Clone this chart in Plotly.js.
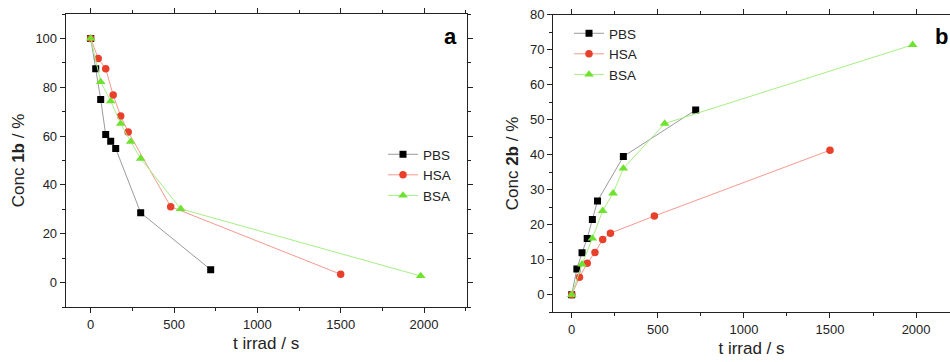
<!DOCTYPE html>
<html><head><meta charset="utf-8">
<script src="https://cdn.plot.ly/plotly-3.0.1.min.js"></script>
<style>html,body{margin:0;padding:0;background:#fff}#c{width:950px;height:362px}</style>
</head><body><div id="c"></div>
<script>
// Panel a: Conc 1b (%) vs irradiation time (s)
const tPBS_a = [0, 30, 60, 90, 120, 150, 300, 720];
const cPBS_a = [100, 87.6, 75, 60.6, 57.9, 54.9, 28.6, 5.3];
const tHSA_a = [0, 45, 90, 135, 180, 225, 480, 1500];
const cHSA_a = [100, 91.8, 87.6, 76.8, 68.2, 61.7, 31.1, 3.4];
const tBSA_a = [0, 60, 120, 180, 240, 300, 540, 1980];
const cBSA_a = [100, 82.2, 74.3, 65.1, 57.7, 50.8, 30.2, 2.7];
// Panel b: Conc 2b (%) vs irradiation time (s)
const tPBS_b = [0, 30, 60, 90, 120, 150, 300, 720];
const cPBS_b = [0, 7.4, 12.0, 16.1, 21.5, 26.8, 39.5, 52.8];
const tHSA_b = [0, 45, 90, 135, 180, 225, 480, 1500];
const cHSA_b = [0, 5.0, 9.0, 12.1, 15.8, 17.6, 22.5, 41.3];
const tBSA_b = [0, 60, 120, 180, 240, 300, 540, 1980];
const cBSA_b = [0, 8.7, 16.1, 24.0, 29.0, 36.1, 48.9, 71.4];
const seriesNames = ['PBS', 'HSA', 'BSA'];

const FONT = 'Arial, "Liberation Sans", sans-serif';
const sty = {
  PBS: {line: '#9a9a9a', mk: '#000000', sym: 'square', size: 7},
  HSA: {line: '#f29a8e', mk: '#e8402a', sym: 'circle', size: 7.5},
  BSA: {line: '#a6ee86', mk: '#6ee22e', sym: 'triangle-up', size: 8.5}
};
function tr(name, x, y, xa, ya, leg) {
  const s = sty[name];
  return {x: x, y: y, name: name, type: 'scatter', mode: 'lines+markers',
    xaxis: xa, yaxis: ya, legend: leg,
    line: {color: s.line, width: 1},
    marker: {symbol: s.sym, size: s.size, color: s.mk}};
}
const data = [
  tr(seriesNames[0], tPBS_a, cPBS_a, 'x', 'y', 'legend'),
  tr(seriesNames[1], tHSA_a, cHSA_a, 'x', 'y', 'legend'),
  tr(seriesNames[2], tBSA_a, cBSA_a, 'x', 'y', 'legend'),
  tr(seriesNames[0], tPBS_b, cPBS_b, 'x2', 'y2', 'legend2'),
  tr(seriesNames[1], tHSA_b, cHSA_b, 'x2', 'y2', 'legend2'),
  tr(seriesNames[2], tBSA_b, cBSA_b, 'x2', 'y2', 'legend2')
];
const tickF = {family: FONT, size: 13, color: '#222'};
const titleF = {family: FONT, size: 17, color: '#222'};
function xax(dom, rng, anchor, mirror) {
  return {domain: dom, range: rng, anchor: anchor, showgrid: false, zeroline: false,
    showline: true, linecolor: '#222', linewidth: 1, mirror: mirror,
    ticks: 'outside', ticklen: 5, tickcolor: '#222', dtick: 500, tick0: 0,
    minor: {dtick: 250, ticklen: 3, tickcolor: '#222', ticks: 'outside'},
    tickfont: tickF, title: {text: 't irrad / s', font: titleF, standoff: 6}};
}
function yax(dom, rng, anchor, dt, mdt, ttl, mirror) {
  return {domain: dom, range: rng, anchor: anchor, showgrid: false, zeroline: false,
    showline: true, linecolor: '#222', linewidth: 1, mirror: mirror,
    ticks: 'outside', ticklen: 5, tickcolor: '#222', dtick: dt, tick0: 0,
    minor: {dtick: mdt, ticklen: 3, tickcolor: '#222', ticks: 'outside'},
    tickfont: tickF, title: {text: ttl, font: titleF, standoff: 6}};
}
const legFont = {family: FONT, size: 13.5, color: '#222'};
const layout = {
  width: 950, height: 362, paper_bgcolor: '#fff', plot_bgcolor: '#fff',
  margin: {l: 0, r: 0, t: 0, b: 0},
  font: {family: FONT},
  xaxis: xax([65.7/950, 466.5/950], [-150, 2255], 'y', 'ticks'),
  yaxis: yax([1-307/362, 1-14/362], [-10, 110], 'x', 20, 10, 'Conc <b>1b</b> / %', 'ticks'),
  xaxis2: xax([553/950, 1], [-108.6, 2197], 'y2', 'ticks'),
  yaxis2: yax([1-312.3/362, 1-14.7/362], [-5, 80], 'x2', 10, 5, 'Conc <b>2b</b> / %', false),
  legend: {x: 383/950, y: 1-139/362, xanchor: 'left', yanchor: 'top', bgcolor: 'rgba(0,0,0,0)',
    font: legFont, tracegroupgap: 0, itemwidth: 30},
  legend2: {x: 569/950, y: 1-18/362, xanchor: 'left', yanchor: 'top', bgcolor: 'rgba(0,0,0,0)',
    font: legFont, tracegroupgap: 0, itemwidth: 30},
  annotations: [
    {text: '<b>a</b>', xref: 'paper', yref: 'paper', x: 450.7/950, y: 1-36.7/362,
      xanchor: 'center', yanchor: 'middle', showarrow: false, font: {family: FONT, size: 22, color: '#000'}},
    {text: '<b>b</b>', xref: 'paper', yref: 'paper', x: 941.7/950, y: 1-36.7/362,
      xanchor: 'center', yanchor: 'middle', showarrow: false, font: {family: FONT, size: 22, color: '#000'}}
  ]
};
Plotly.newPlot('c', data, layout, {staticPlot: true, displayModeBar: false});
</script></body></html>
